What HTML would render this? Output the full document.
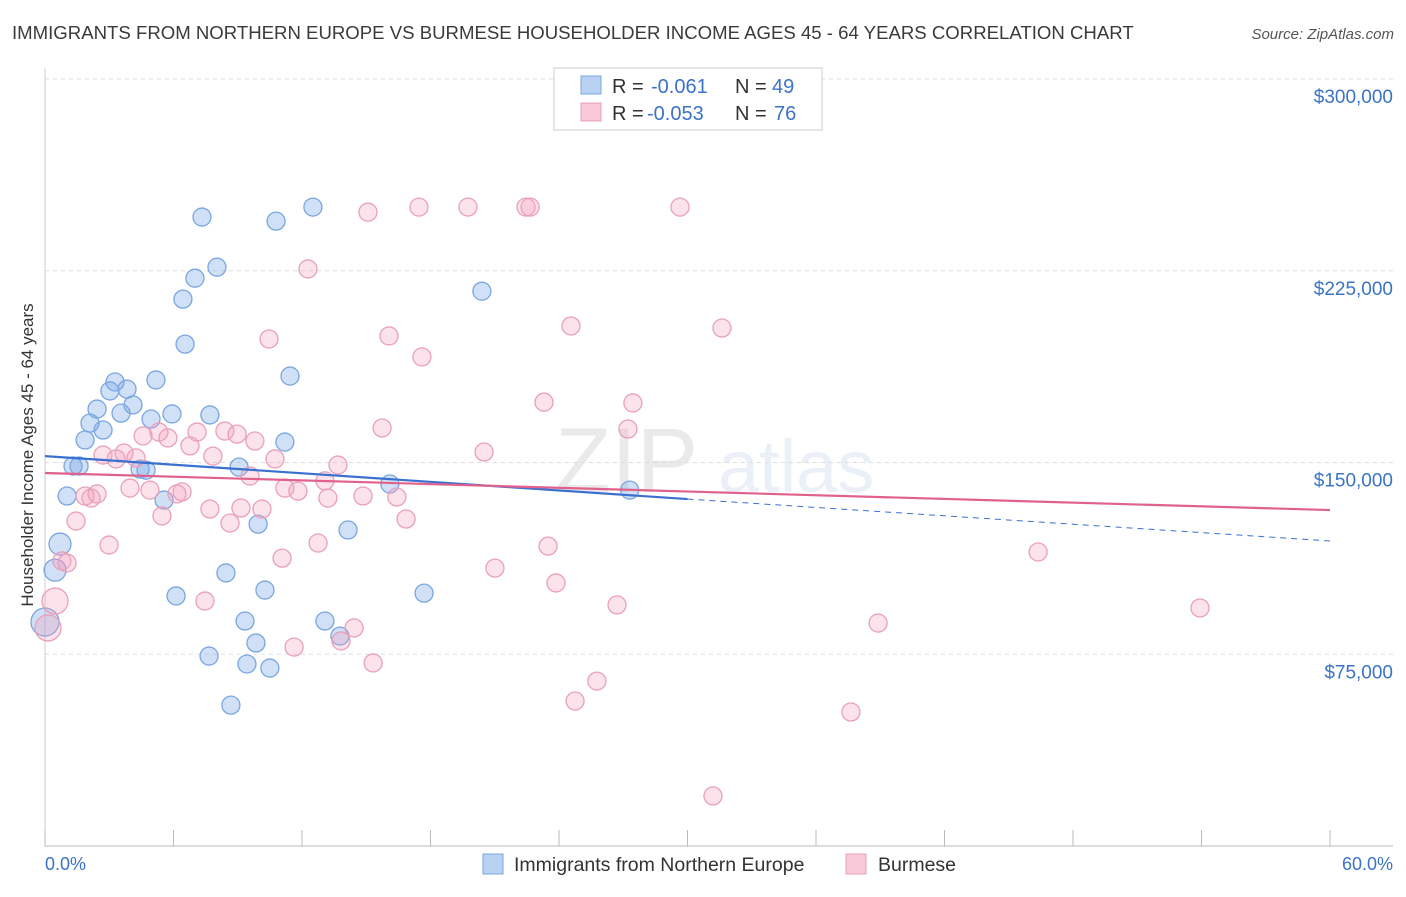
<!DOCTYPE html>
<html><head><meta charset="utf-8"><style>
body{margin:0;background:#fff;font-family:"Liberation Sans",sans-serif;}
svg text{font-family:"Liberation Sans",sans-serif;}
</style></head><body>
<svg id="chart" width="1406" height="892" viewBox="0 0 1406 892" xmlns="http://www.w3.org/2000/svg">
<text x="12" y="39" font-size="18.6" fill="#3a3a3a">IMMIGRANTS FROM NORTHERN EUROPE VS BURMESE HOUSEHOLDER INCOME AGES 45 - 64 YEARS CORRELATION CHART</text>
<text x="1394" y="39" font-size="15" fill="#555" text-anchor="end" font-style="italic">Source: ZipAtlas.com</text>
<g opacity="0.13">
<text x="555" y="492" font-size="92" fill="#666" font-family="Liberation Serif,serif">ZIP</text>
<text x="718" y="492" font-size="74" fill="#6a8fd0">atlas</text>
</g>
<g id="grid"></g>
<g id="axes"></g>
<g id="pts"></g>
<g id="trends"></g>
<text transform="translate(33,455) rotate(-90)" font-size="17" fill="#333" text-anchor="middle">Householder Income Ages 45 - 64 years</text>
<g>
<rect x="554" y="68" width="268" height="62" fill="#fff" stroke="#ccc"/>
<rect x="581" y="76" width="20" height="18" fill="#b9d2f3" stroke="#7aa6e0"/>
<rect x="581" y="103" width="20" height="18" fill="#f8c9d8" stroke="#e9a0b8"/>
<text x="612" y="93" font-size="20" fill="#333">R =</text>
<text x="651" y="93" font-size="20" fill="#3b73c8">-0.061</text>
<text x="735" y="93" font-size="20" fill="#333">N =</text>
<text x="772" y="93" font-size="20" fill="#3b73c8">49</text>
<text x="612" y="120" font-size="20" fill="#333">R =</text>
<text x="647" y="120" font-size="20" fill="#3b73c8">-0.053</text>
<text x="735" y="120" font-size="20" fill="#333">N =</text>
<text x="774" y="120" font-size="20" fill="#3b73c8">76</text>
</g>
<g>
<rect x="483" y="854" width="20" height="20" fill="#b9d2f3" stroke="#7aa6e0"/>
<text x="514" y="871" font-size="19.5" fill="#333">Immigrants from Northern Europe</text>
<rect x="846" y="854" width="20" height="20" fill="#f8c9d8" stroke="#e9a0b8"/>
<text x="878" y="871" font-size="19.5" fill="#333">Burmese</text>
</g>
<text x="45" y="870" font-size="18" fill="#3b73c8">0.0%</text>
<text x="1393" y="870" font-size="18" fill="#3b73c8" text-anchor="end">60.0%</text>
</svg>
<script>
const yTicks=[75000,150000,225000,300000];
const yTickLabels=["$75,000","$150,000","$225,000","$300,000"];
const xTicks=[0,6,12,18,24,30,36,42,48,54,60];
const blueX=[7.33,10.79,12.51,8.03,7.0,6.44,20.4,6.54,11.44,5.18,3.27,3.03,3.83,4.11,2.43,3.55,5.93,7.7,4.95,2.1,2.71,1.87,11.2,1.31,1.59,9.06,4.72,4.44,16.1,27.3,1.03,5.56,9.95,14.15,0.7,0.47,8.45,10.27,6.12,17.7,9.34,13.07,9.85,13.77,7.66,9.43,10.5,8.68,0];
const blueY=[246,244.4,249.9,226.4,222.1,213.9,217,196.3,183.8,182.3,181.5,178,178.7,172.5,170.9,169.3,169,168.6,167,165.4,162.7,158.8,158,148.6,148.6,148.2,147,147.4,141.6,139.2,136.9,135.3,125.9,123.6,118.1,107.9,106.8,100.1,97.8,98.9,88,88,79.4,82.1,74.3,71.2,69.6,55.1,87.6];
const pinkX=[15.08,17.46,19.75,22.46,22.65,29.65,12.28,24.56,31.61,10.46,16.06,17.6,23.3,27.45,15.74,27.22,4.58,5.32,5.74,6.77,7.1,8.4,8.97,9.8,7.84,10.74,2.71,3.32,3.69,4.25,20.5,13.68,9.57,3.97,4.9,6.4,6.16,11.2,11.81,13.07,14.85,16.43,13.21,1.87,2.43,2.15,7.7,9.15,10.13,5.46,16.86,1.45,8.64,2.99,12.75,23.49,0.79,1.03,11.07,21.01,23.86,46.37,7.47,26.71,53.93,38.9,14.43,13.82,11.63,15.32,25.77,24.75,37.63,31.19,0.47,0.14];
const pinkY=[247.9,249.9,249.9,249.9,249.9,249.9,225.7,203.4,202.6,198.3,199.5,191.3,173.6,173.3,163.5,163.1,160.4,161.9,159.6,156.5,161.9,162.3,161.1,158.4,152.5,151.4,152.9,151.4,153.7,151.8,154.1,149,144.7,140,139.2,138.5,137.7,140,138.8,142.8,136.9,136.5,136.1,136.9,137.7,136.1,131.8,132.2,131.8,129.1,127.9,127.1,126.3,117.7,118.5,117.3,111.5,110.7,112.6,108.7,102.9,115,95.8,94.3,93.1,87.2,85.3,80.2,77.8,71.6,64.5,56.7,52.4,19.6,95.8,85.3];
const blueTrend=[152.5,135.7,119.3];
const pinkTrend=[145.9,131.4];
const NS="http://www.w3.org/2000/svg";
const X=v=>45+v/60*1285;
const Y=v=>846-v/75*191.75; // v in thousands
function mk(tag,attrs,parent){const e=document.createElementNS(NS,tag);for(const k in attrs)e.setAttribute(k,attrs[k]);parent.appendChild(e);return e;}
const grid=document.getElementById('grid'),axes=document.getElementById('axes'),pts=document.getElementById('pts'),tr=document.getElementById('trends');
mk('line',{x1:45,y1:79,x2:1393,y2:79,stroke:'#ddd','stroke-dasharray':'4,4'},grid);
yTicks.forEach((t,i)=>{const y=Y(t/1000);
const l=mk('line',{x1:45,y1:y,x2:1393,y2:y,stroke:'#ddd','stroke-dasharray':'4,4'},grid);


const tx=mk('text',{x:1393,y:y+24,'font-size':19,fill:'#3b73c8','text-anchor':'end'},axes);
tx.textContent=yTickLabels[i];

});
mk('line',{x1:45,y1:68,x2:45,y2:846,stroke:'#ccc'},axes);
mk('line',{x1:45,y1:846,x2:1393,y2:846,stroke:'#bbb'},axes);
xTicks.forEach(t=>{const l=mk('line',{x1:X(t),y1:830,x2:X(t),y2:846,stroke:'#bbb'},axes);

});
blueX.forEach((x,i)=>{const big=(i>=34&&i<=35)||i==48;
const c=mk('circle',{cx:X(x),cy:Y(blueY[i]),r:big?(i==48?14:11):9,fill:'rgba(120,165,230,0.35)',stroke:'#7aa6e0','stroke-width':1.3},pts);

});
pinkX.forEach((x,i)=>{const big=i>=74;
const c=mk('circle',{cx:X(x),cy:Y(pinkY[i]),r:big?13:9,fill:'rgba(245,160,190,0.3)',stroke:'#e9a0b8','stroke-width':1.3},pts);

});
let l=mk('line',{x1:X(0),y1:Y(blueTrend[0]),x2:X(30),y2:Y(blueTrend[1]),stroke:'#3a70d0','stroke-width':2.2},tr);


l=mk('line',{x1:X(30),y1:Y(blueTrend[1]),x2:X(60),y2:Y(blueTrend[2]),stroke:'#3a70d0','stroke-width':1,'stroke-dasharray':'6,5'},tr);


l=mk('line',{x1:X(0),y1:Y(pinkTrend[0]),x2:X(60),y2:Y(pinkTrend[1]),stroke:'#e0628c','stroke-width':2.2},tr);


</script>
</body></html>
